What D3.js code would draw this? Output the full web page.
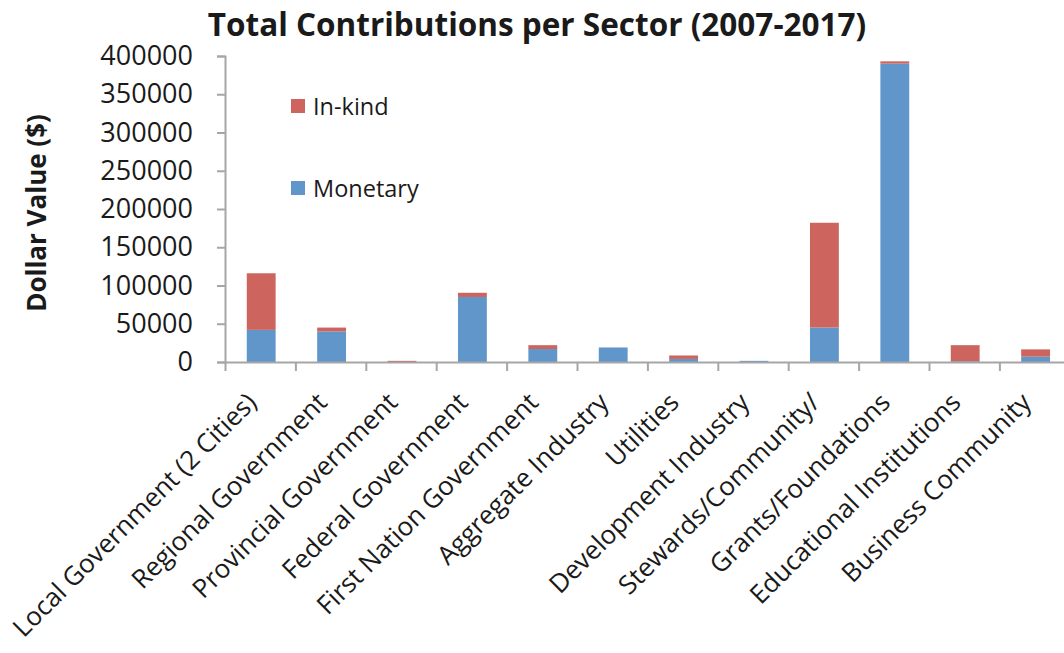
<!DOCTYPE html>
<html>
<head>
<meta charset="utf-8">
<script src="https://cdn.jsdelivr.net/npm/d3@7"></script>
<style>
  body { margin: 0; background: #fff; }
  text { font-family: "Open Sans", sans-serif; fill: #1a1a1a; }
  .axis path, .axis line { stroke: #a6a6a6; stroke-width: 2; }
</style>
</head>
<body>
<svg width="1064" height="653"></svg>
<script>
const svg = d3.select("svg");

// data
const sectors = [
    "Local Government (2 Cities)", "Regional Government", "Provincial Government",
    "Federal Government", "First Nation Government", "Aggregate Industry",
    "Utilities", "Development Industry", "Stewards/Community/",
    "Grants/Foundations", "Educational Institutions", "Business Community"
];
const monetary = [42000, 40000, 0, 85000, 17000, 19000, 4000, 1500, 45000, 390000, 1000, 7000];
const inKind = [74000, 5000, 1500, 5500, 5000, 0, 4500, 0, 137000, 3000, 21000, 9500];
const yTicks = [0, 50000, 100000, 150000, 200000, 250000, 300000, 350000, 400000];
const seriesNames = ["Monetary", "In-kind"];
const colors = ["#6196cb", "#cd655e"];

const plotLeft = 225, plotBottom = 362, plotTop = 56;
const bandW = 70.4;
const plotRight = plotLeft + sectors.length * bandW;

const rows = sectors.map((s, i) => ({ sector: s, "Monetary": monetary[i], "In-kind": inKind[i] }));
const stacked = d3.stack().keys(seriesNames)(rows);

const x = d3.scaleBand().domain(sectors).range([plotLeft, plotRight]).paddingInner(0).paddingOuter(0);
const xEdges = d3.scaleLinear().domain([0, sectors.length]).range([plotLeft, plotRight]);
const y = d3.scaleLinear().domain([0, 400000]).range([plotBottom, plotTop]);
const color = d3.scaleOrdinal().domain(seriesNames).range(colors);

// title
svg.append("text")
    .attr("x", 537).attr("y", 36)
    .attr("text-anchor", "middle")
    .style("font-size", "31.5px").style("font-weight", "bold")
    .text("Total Contributions per Sector (2007-2017)");

// y axis title
svg.append("text")
    .attr("transform", `translate(46, 213) rotate(-90)`)
    .attr("text-anchor", "middle")
    .style("font-size", "26px").style("font-weight", "bold")
    .text("Dollar Value ($)");

// bars
const barW = bandW * 0.41;
svg.append("g").selectAll("g")
    .data(stacked)
    .enter().append("g")
    .attr("fill", d => color(d.key))
    .selectAll("rect")
    .data(d => d)
    .enter().append("rect")
    .attr("x", d => x(d.data.sector) + (x.bandwidth() - barW) / 2 + 1)
    .attr("y", d => y(d[1]))
    .attr("width", barW)
    .attr("height", d => y(d[0]) - y(d[1]));

// y axis
const yAxisG = svg.append("g")
    .attr("class", "axis")
    .attr("transform", `translate(${plotLeft},0)`)
    .call(d3.axisLeft(y).tickValues(yTicks).tickSize(8).tickPadding(24).tickFormat(d3.format("d")));
yAxisG.selectAll("text").style("font-size", "27px").attr("fill", "#1a1a1a");

// x axis (ticks at category boundaries)
const xAxisG = svg.append("g")
    .attr("class", "axis")
    .attr("transform", `translate(0,${plotBottom})`)
    .call(d3.axisBottom(xEdges).tickValues(d3.range(0, sectors.length + 1)).tickSize(9).tickSizeOuter(0).tickFormat(""));

// category labels
svg.append("g").selectAll("text")
    .data(sectors)
    .enter().append("text")
    .attr("transform", d => `translate(${x(d) + x.bandwidth() / 2 - 2}, 404) rotate(-45)`)
    .attr("text-anchor", "end")
    .style("font-size", "26px")
    .text(d => d);

// legend
const legendY = [181, 99];
const legend = svg.append("g").selectAll("g")
    .data(seriesNames)
    .enter().append("g")
    .attr("transform", (d, i) => `translate(291, ${legendY[i]})`);
legend.append("rect")
    .attr("width", 14).attr("height", 14)
    .attr("fill", d => color(d));
legend.append("text")
    .attr("x", 22).attr("y", 16)
    .style("font-size", "23.5px")
    .text(d => d);
</script>
</body>
</html>
